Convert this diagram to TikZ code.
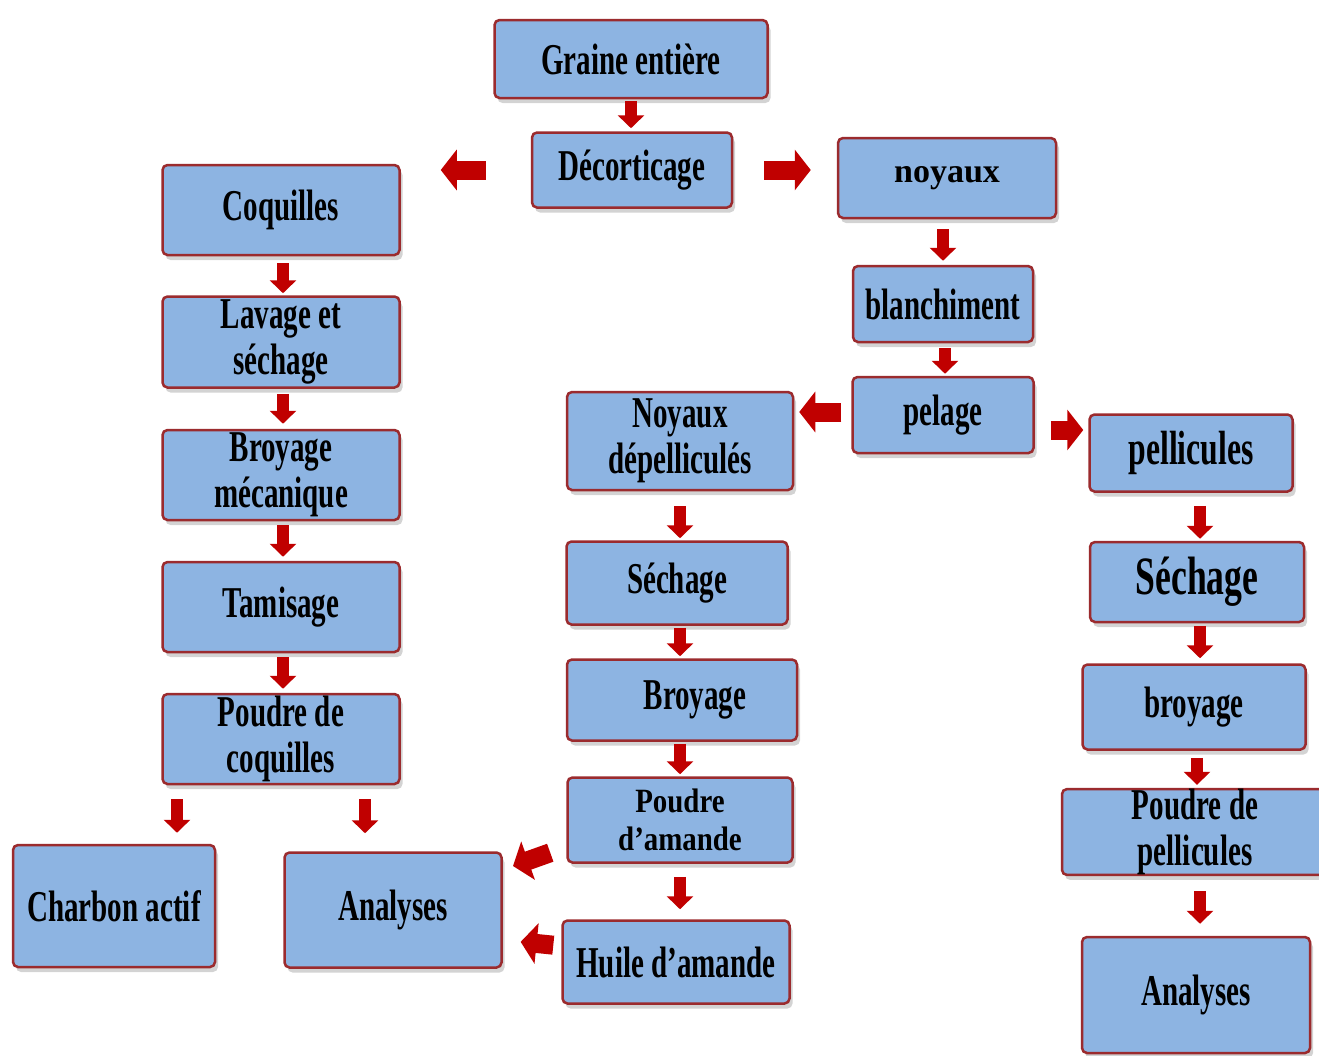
\documentclass[tikz,border=0pt]{standalone}
\usepackage{fontspec}
\setmainfont{Liberation Serif}
\newfontfamily\cond{Liberation Serif}[FakeStretch=0.66]
\newfontfamily\semicond{Liberation Serif}[FakeStretch=0.85]
\usetikzlibrary{arrows.meta,shadows}
\definecolor{boxfill}{HTML}{8DB4E2}
\definecolor{boxline}{HTML}{9B2B2E}
\definecolor{arrred}{HTML}{C00000}
\begin{document}
\begin{tikzpicture}[x=1pt,y=-1pt,
  box/.style={draw=boxline, line width=2.5pt, fill=boxfill, rounded corners=5pt,
    inner sep=0pt, align=center, text=black,
    font=\cond\bfseries\fontsize{44}{46}\selectfont,
    drop shadow={shadow xshift=3pt, shadow yshift=-5pt, opacity=0.35}},
  darr/.style={draw=arrred, line width=12pt, -{Triangle[length=13pt,width=26pt]}},
  harr/.style={draw=arrred, line width=19pt, -{Triangle[length=16pt,width=40pt]}}]
\useasboundingbox (0,0) rectangle (1319,1055);
% top
\node[box, minimum width=273pt, minimum height=78pt] (gr) at (631,59) {Graine entière};
\node[box, minimum width=200pt, minimum height=75pt] (dec) at (632,170) {Décorticage};
\node[box, minimum width=218pt, minimum height=80pt, font=\bfseries\fontsize{34}{36}\selectfont] (noy) at (947,178) {noyaux};
% left column
\node[box, minimum width=237pt, minimum height=90pt] (coq) at (281,210) {Coquilles};
\node[box, minimum width=237pt, minimum height=91pt] (lav) at (281,342) {Lavage et\\séchage};
\node[box, minimum width=237pt, minimum height=90pt] (bro) at (281,475) {Broyage\\mécanique};
\node[box, minimum width=237pt, minimum height=90pt] (tam) at (281,607) {Tamisage};
\node[box, minimum width=237pt, minimum height=90pt] (pc) at (281,739) {Poudre de\\coquilles};
\node[box, minimum width=202pt, minimum height=122pt] (ch) at (114,906) {Charbon actif};
\node[box, minimum width=217pt, minimum height=115pt] (anl) at (393,910) {Analyses};
% middle column
\node[box, minimum width=180pt, minimum height=76pt] (bl) at (943,304) {blanchiment};
\node[box, minimum width=181pt, minimum height=76pt] (pel) at (943,415) {pelage};
\node[box, minimum width=226pt, minimum height=98pt] (nd) at (680,441) {Noyaux\\dépelliculés};
\node[box, minimum width=221pt, minimum height=83pt] (sm) at (677,583) {Séchage};
\node[box, minimum width=230pt, minimum height=81pt] (bm) at (682,700) {\hspace*{26pt}Broyage};
\node[box, minimum width=225pt, minimum height=85pt, font=\semicond\bfseries\fontsize{34}{38}\selectfont] (pa) at (680,820) {Poudre\\d’amande};
\node[box, minimum width=227pt, minimum height=83pt] (hu) at (676,962) {Huile d’amande};
% right column
\node[box, minimum width=203pt, minimum height=77pt, font=\cond\bfseries\fontsize{48}{50}\selectfont] (pell) at (1191,453) {pellicules};
\node[box, minimum width=214pt, minimum height=80pt, font=\cond\bfseries\fontsize{54}{56}\selectfont] (sr) at (1197,582) {Séchage};
\node[box, minimum width=223pt, minimum height=85pt] (br) at (1194,707) {broyage};
\node[box, minimum width=266pt, minimum height=85pt] (ppl) at (1195,832) {Poudre de\\pellicules};
\node[box, minimum width=228pt, minimum height=116pt] (ar) at (1196,995) {Analyses};
% arrows top
\draw[darr, shorten <=2pt, shorten >=3pt] (gr.south) -- (gr.south |- dec.north);
\draw[harr, shorten <=45pt, shorten >=40pt] (dec.west) -- (dec.west -| coq.east);
\draw[harr, shorten <=31pt, shorten >=26pt] (dec.east) -- (dec.east -| noy.west);
% left column arrows
\draw[darr, shorten <=7pt, shorten >=2pt] ([xshift=2pt]coq.south) -- ([xshift=2pt]coq.south |- lav.north);
\draw[darr, shorten <=5pt, shorten >=5pt] ([xshift=2pt]lav.south) -- ([xshift=2pt]lav.south |- bro.north);
\draw[darr, shorten <=4pt, shorten >=4pt] ([xshift=2pt]bro.south) -- ([xshift=2pt]bro.south |- tam.north);
\draw[darr, shorten <=4pt, shorten >=4pt] ([xshift=2pt]tam.south) -- ([xshift=2pt]tam.south |- pc.north);
\draw[darr, shorten <=14pt, shorten >=11pt] ([xshift=-104pt]pc.south) -- ([xshift=-104pt]pc.south |- ch.north);
\draw[darr, shorten <=14pt, shorten >=18pt] ([xshift=84pt]pc.south) -- ([xshift=84pt]pc.south |- anl.north);
% middle arrows
\draw[darr, shorten <=10pt, shorten >=4pt] ([xshift=-4pt]noy.south) -- ([xshift=-4pt]noy.south |- bl.north);
\draw[darr, shorten <=5pt, shorten >=2pt] ([xshift=2pt]bl.south) -- ([xshift=2pt]bl.south |- pel.north);
\draw[harr, shorten <=10pt, shorten >=5pt] ([yshift=3pt]pel.west) -- ([yshift=3pt]pel.west -| nd.east);
\draw[harr, shorten <=16pt, shorten >=5pt] ([yshift=-15pt]pel.east) -- ([yshift=-15pt]pel.east -| pell.west);
\draw[darr, shorten <=15pt, shorten >=2pt] (nd.south) -- (nd.south |- sm.north);
\draw[darr, shorten <=2pt, shorten >=2pt] ([xshift=3pt]sm.south) -- ([xshift=3pt]sm.south |- bm.north);
\draw[darr, shorten <=2pt, shorten >=2pt] ([xshift=-2pt]bm.south) -- ([xshift=-2pt]bm.south |- pa.north);
\draw[darr, shorten <=13pt, shorten >=10pt] (pa.south) -- (pa.south |- hu.north);
\coordinate (h1) at (513,866);
\draw[harr, shorten <=17pt] ([yshift=-27pt]pa.west) -- (h1);
\draw[harr, shorten <=8pt, shorten >=18pt] ([yshift=16pt]hu.west) -- ([yshift=-30pt]anl.east);
% right arrows
\draw[darr, shorten <=13pt, shorten >=2pt] ([xshift=9pt]pell.south) -- ([xshift=9pt]pell.south |- sr.north);
\draw[darr, shorten <=3pt, shorten >=5pt] ([xshift=3pt]sr.south) -- ([xshift=3pt]sr.south |- br.north);
\draw[darr, shorten <=7pt, shorten >=3pt] ([xshift=3pt]br.south) -- ([xshift=3pt]br.south |- ppl.north);
\draw[darr, shorten <=15pt, shorten >=12pt] ([xshift=5pt]ppl.south) -- ([xshift=5pt]ppl.south |- ar.north);
\end{tikzpicture}
\end{document}
